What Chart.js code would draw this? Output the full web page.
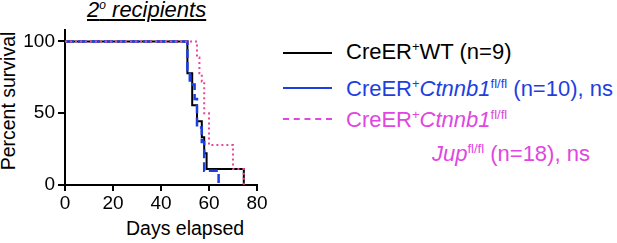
<!DOCTYPE html>
<html>
<head>
<meta charset="utf-8">
<script src="https://cdn.jsdelivr.net/npm/chart.js@4.4.1/dist/chart.umd.min.js"></script>
<style>
  html, body { margin: 0; padding: 0; background: #fff; }
  body { width: 617px; height: 243px; position: relative; overflow: hidden;
         font-family: "Liberation Sans", Arial, sans-serif; }
  #box { position: absolute; left: 0; top: 0; width: 270px; height: 243px; }
  .abs { position: absolute; white-space: nowrap; line-height: 24px; }
  .leg { font-size: 22px; }
  .line { position: absolute; height: 0; width: 49px; left: 283px; }
  sup { font-size: 13px; vertical-align: 8px; line-height: 0; }
</style>
</head>
<body>
<div class="abs" style="left:87px; top:-2px; font-size:22px; font-style:italic; text-decoration:underline;">2<sup style="font-size:12px">o</sup> recipients</div>
<div class="abs" style="left:8px; top:101px; font-size:19.5px; transform:translate(-50%,-50%) rotate(-90deg);">Percent survival</div>
<div class="abs" style="left:126px; top:216px; font-size:19.5px;">Days elapsed</div>

<div id="box"><canvas id="survivalChart"></canvas></div>

<div class="line" style="top:52px; border-top:2px solid #000;"></div>
<div class="abs leg" style="left:346px; top:40px; color:#000;">CreER<sup>+</sup>WT (n=9)</div>

<div class="line" style="top:87px; border-top:2px solid #1e3fe0;"></div>
<div class="abs leg" style="left:346px; top:77px; color:#1e3fe0;">CreER<sup>+</sup><i>Ctnnb1</i><sup>fl/fl</sup> (n=10), ns</div>

<div class="line" style="top:118px; border-top:2px dashed #e046e0;"></div>
<div class="abs leg" style="left:346px; top:108px; color:#e046e0;">CreER<sup>+</sup><i>Ctnnb1</i><sup>fl/fl</sup></div>
<div class="abs leg" style="left:432px; top:142px; color:#e046e0;"><i>Jup</i><sup>fl/fl</sup> (n=18), ns</div>

<script>
// survival steps (day of drop, percent after drop)
const wtDays = [0, 51, 53, 55, 57, 58, 59, 74.5];
const wtSurv = [100, 77.8, 55.6, 44.4, 33.3, 22.2, 11.1, 0];

const ctnDays = [0, 51, 52, 54, 55, 57, 58, 64];
const ctnSurv = [100, 80, 70, 60, 40, 30, 10, 0];

const jupDays = [0, 55, 56, 57, 58, 60, 70, 74.5];
const jupSurv = [100, 88.9, 77.8, 72.2, 50, 27.8, 11.1, 0];

const xTicks = [0, 20, 40, 60, 80];
const yTicks = [0, 50, 100];

function pts(days, surv) {
  return days.map((d, i) => ({ x: d, y: surv[i] }));
}

const tickFont = { family: "'Liberation Sans', Arial, sans-serif", size: 19 };

new Chart("survivalChart", {
  type: "line",
  data: {
    datasets: [
      {
        label: "CreER+WT (n=9)",
        data: pts(wtDays, wtSurv),
        borderColor: "#000",
        borderWidth: 2,
        stepped: true,
        pointRadius: 0,
        order: 2
      },
      {
        label: "CreER+Ctnnb1 fl/fl (n=10), ns",
        data: pts(ctnDays, ctnSurv),
        borderColor: "#1e3fe0",
        borderWidth: 2.5,
        borderDash: [9, 4],
        stepped: true,
        pointRadius: 0,
        order: 1
      },
      {
        label: "CreER+Ctnnb1 fl/fl Jup fl/fl (n=18), ns",
        data: pts(jupDays, jupSurv),
        borderColor: "#e8479a",
        borderWidth: 2,
        borderDash: [2, 3],
        stepped: true,
        pointRadius: 0,
        order: 0
      }
    ]
  },
  options: {
    responsive: true,
    maintainAspectRatio: false,
    animation: false,
    layout: { padding: { top: 30, right: 13, left: 0, bottom: 0 } },
    plugins: { legend: { display: false }, tooltip: { enabled: false } },
    scales: {
      x: {
        type: "linear",
        min: 0,
        max: 80,
        afterBuildTicks: (axis) => { axis.ticks = xTicks.map(v => ({ value: v })); },
        afterFit: (axis) => { axis.height = 58; },
        ticks: { color: "#000", font: tickFont, padding: 1, maxRotation: 0 },
        grid: { drawOnChartArea: false, color: "#000", lineWidth: 2, tickLength: 6 },
        border: { color: "#000", width: 2 }
      },
      y: {
        min: 0,
        max: 108,
        afterBuildTicks: (axis) => { axis.ticks = yTicks.map(v => ({ value: v })); },
        afterFit: (axis) => { axis.width = 65; },
        ticks: { color: "#000", font: tickFont, padding: 3 },
        grid: { drawOnChartArea: false, color: "#000", lineWidth: 2, tickLength: 7 },
        border: { color: "#000", width: 2 }
      }
    }
  }
});
</script>
</body>
</html>
